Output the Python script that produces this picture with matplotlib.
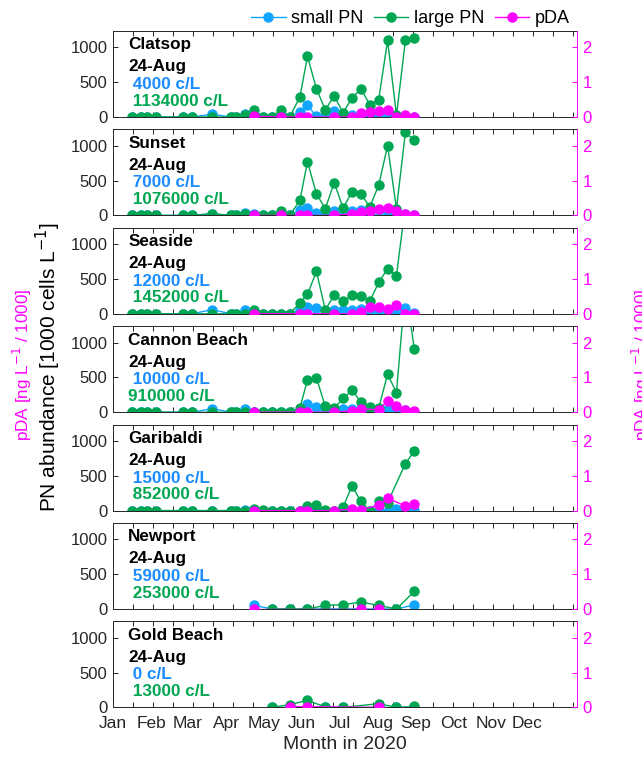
import numpy as np
import matplotlib
matplotlib.use('Agg')
import matplotlib.pyplot as plt
from matplotlib.lines import Line2D

#===============================================================================
# sampling days (day of year 2020, Jan 1 = 0)
days = [15, 22, 27, 34, 55, 62, 78, 93, 97, 104, 111, 118, 125, 132, 139,
        147, 153, 160, 167, 174, 181, 188, 195, 202, 209, 216, 223, 230, 237]
nan = np.nan

sites    = ['Clatsop', 'Sunset', 'Seaside', 'Cannon Beach', 'Garibaldi', 'Newport', 'Gold Beach']
last_day = '24-Aug'
small_txt = [' 4000 c/L', ' 7000 c/L', ' 12000 c/L', ' 10000 c/L', ' 15000 c/L', ' 59000 c/L', ' 0 c/L']
large_txt = [' 1134000 c/L', ' 1076000 c/L', ' 1452000 c/L', '910000 c/L', ' 852000 c/L', ' 253000 c/L', ' 13000 c/L']

# PN abundance [1000 cells/L]
small_pn = [
    [0,0,0,0,0,0,40,0,0,50,0,0,0,0,0,72,167,10,20,80,10,30,40,0,20,40,20,0,4],
    [0,0,0,0,0,0,24,0,0,40,24,0,0,0,0,72,106,38,10,58,24,58,72,0,72,24,10,24,7],
    [0,0,0,0,0,0,59,0,0,59,0,0,0,0,0,59,98,83,0,59,49,59,69,0,59,34,59,83,12],
    [0,0,0,0,0,0,50,0,0,50,0,0,0,0,0,0,119,69,0,0,50,50,20,0,0,50,59,35,10],
    [0,0,0,0,0,0,0,0,0,5,0,0,0,0,0,0,0,0,0,0,0,0,0,0,0,0,25,0,15],
    [nan]*10 + [52,nan,0,nan,0,nan,0,nan,0,nan,0,nan,0,nan,0,nan,0,nan,59],
    [nan]*12 + [0,nan,0,nan,0,nan,0,nan,0,nan,nan,nan,0,nan,0,nan,0],
]
large_pn = [
    [0,0,0,0,0,0,0,0,0,24,105,0,0,105,0,287,871,407,105,301,62,273,407,177,249,1100,24,1100,1134],
    [0,0,0,0,0,0,24,0,0,24,0,0,0,58,0,216,769,313,96,471,106,337,313,120,433,1000,96,1192,1076],
    [0,0,0,0,0,0,0,0,0,0,59,0,0,0,0,157,279,608,59,265,181,265,255,181,451,647,549,1560,1452],
    [0,0,0,0,0,0,0,0,0,0,0,0,0,0,0,59,465,495,84,59,198,317,149,69,59,545,282,1800,910],
    [0,0,0,0,0,0,0,0,0,0,25,15,0,0,0,0,64,74,15,0,49,355,133,0,133,113,nan,675,852],
    [nan]*12 + [0,nan,0,nan,0,nan,52,nan,62,nan,100,nan,52,nan,0,nan,253],
    [nan]*12 + [0,nan,39,nan,102,nan,5,nan,0,nan,nan,nan,54,nan,0,nan,13],
]
# pDA [ng/L / 1000]
pda = [
    [nan]*10 + [0.02,nan,nan,0,nan,0,0,nan,nan,0,nan,0,0.11,0.14,0.16,0.21,0,0.05,0],
    [nan]*10 + [0,nan,nan,0,nan,0,0,nan,nan,0,nan,0.05,0.10,0.14,0.19,0.21,0.12,0.05,0],
    [nan]*10 + [0,nan,nan,nan,nan,0,0,nan,nan,0,nan,0,0.04,0.20,0.20,0.14,0.24,0,0],
    [nan]*10 + [0,nan,nan,nan,nan,0,0,nan,nan,0,nan,0.04,0.10,nan,0.07,0.32,0.17,0.07,0.04],
    [nan]*10 + [0,nan,nan,nan,nan,0,0,nan,nan,0,nan,0.05,0.03,nan,0.15,0.36,nan,0.13,0.20],
    [nan]*10 + [0,nan,nan,nan,nan,nan,nan,nan,nan,nan,nan,nan,0,nan,0,nan,nan,nan,nan],
    [nan]*14 + [0.02,nan,0.02,nan,nan,nan,nan,nan,nan,nan,0,nan,nan,nan,nan],
]

months    = ['Jan','Feb','Mar','Apr','May','Jun','Jul','Aug','Sep','Oct','Nov','Dec']
month_pos = [0, 30.4, 58.8, 89.5, 118.6, 148.7, 178.6, 208.5, 238.4, 268.3, 297.6, 325.9]
#===============================================================================
plt.rcParams['font.family'] = ['Liberation Sans', 'DejaVu Sans']
c_small = '#12A5FF'
c_small_txt = '#1A8CFF'
c_large = '#00A651'
c_pda   = '#FF00FF'
c_ax    = '#262626'

W, H = 642., 759.
fig = plt.figure(figsize=(W/100, H/100), dpi=100)

x = np.array(days, dtype=float)
minor_x = np.arange(1, 24) * 15.74

def series(ax, y, color):
    y = np.array(y, dtype=float)
    m = ~np.isnan(y)
    ax.plot(x[m], y[m], '-o', color=color, lw=1.0, ms=6.5, mec=color)

for i, site in enumerate(sites):
    top = 31 + i*98.4
    ax = fig.add_axes([113/W, 1 - (top+86)/H, 464/W, 86/H])
    series(ax, small_pn[i], c_small)
    series(ax, large_pn[i], c_large)
    ax.set_xlim(0, 365)
    ax.set_ylim(0, 1235)
    ax.set_yticks([0, 500, 1000])
    ax.set_xticks(month_pos)
    ax.set_xticks(minor_x, minor=True)
    ax.tick_params(axis='x', which='major', length=0, labelsize=12.5, colors=c_ax, pad=6)
    ax.tick_params(axis='x', which='minor', length=3.5, direction='in', top=True, color=c_ax, width=0.7)
    ax.tick_params(axis='y', length=3.5, direction='in', labelsize=12, colors=c_ax, width=0.7, pad=4)
    if i < len(sites) - 1:
        ax.set_xticklabels([])
    else:
        ax.set_xticklabels(months)
        ax.set_xlabel('Month in 2020', fontsize=14, color=c_ax, labelpad=4)
    for s in ['left', 'top', 'bottom']:
        ax.spines[s].set_color(c_ax)
        ax.spines[s].set_linewidth(0.7)
    ax.spines['right'].set_visible(False)

    ax2 = ax.twinx()
    series(ax2, pda[i], c_pda)
    ax2.set_ylim(0, 2.47)
    ax2.set_yticks([0, 1, 2])
    ax2.tick_params(axis='y', length=3.5, direction='in', labelsize=12, colors=c_pda, width=0.7, pad=4)
    for s in ['left', 'top', 'bottom']:
        ax2.spines[s].set_visible(False)
    ax2.spines['right'].set_color(c_pda)
    ax2.spines['right'].set_linewidth(0.7)

    kw = dict(transform=ax.transAxes, fontsize=12.3, fontweight='bold', va='center', ha='left')
    ax.text(0.033, 1 - 14/86., site, color='black', **kw)
    ax.text(0.033, 1 - 36/86., last_day, color='black', **kw)
    ax.text(0.033, 1 - 53.5/86., small_txt[i], color=c_small_txt, **kw)
    ax.text(0.033, 1 - 70/86., large_txt[i], color=c_large, **kw)

fig.text(48/W, 1 - 367/H, 'PN abundance [1000 cells L$^{-1}$]', rotation=90,
         ha='center', va='center', fontsize=15, color='black')
fig.text(22/W, 1 - 365/H, 'pDA [ng L$^{-1}$ / 1000]', rotation=90,
         ha='center', va='center', fontsize=12.3, color=c_pda)
fig.text(641/W, 1 - 365/H, 'pDA [ng L$^{-1}$ / 1000]', rotation=90,
         ha='center', va='center', fontsize=12.3, color=c_pda)

handles = [Line2D([], [], color=c, marker='o', lw=1.0, ms=6.5) for c in (c_small, c_large, c_pda)]
fig.legend(handles, ['small PN', 'large PN', 'pDA'], loc='upper right',
           bbox_to_anchor=(577/W, 1 - 3/H), ncol=3, frameon=False, fontsize=13,
           handlelength=1.9, handletextpad=0.3, columnspacing=0.6, borderaxespad=0)

fig.savefig('out.png', dpi=100)
